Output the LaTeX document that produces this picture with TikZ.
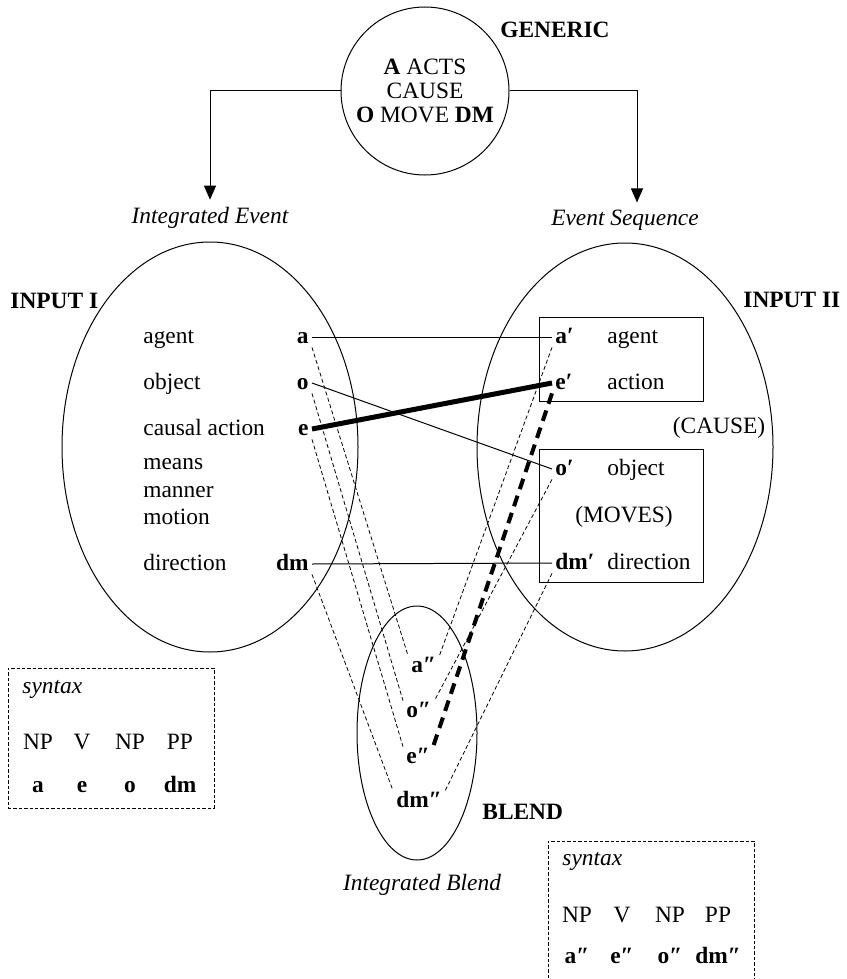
\documentclass[tikz,border=0pt]{standalone}
\usepackage{fontspec}
\setmainfont{Liberation Serif}
\usetikzlibrary{arrows.meta,shapes.geometric}

\begin{document}
\begin{tikzpicture}[x=0.5pt,y=-0.5pt,>={Triangle[length=7pt,width=6pt]},
  font=\fontsize{11.7}{13}\selectfont,
  space/.style={draw,ellipse,line width=0.5pt,inner sep=0pt},
  frame/.style={draw,line width=0.5pt,inner sep=0pt},
  synbox/.style={draw,dash pattern=on 1.7pt off 1pt,line width=0.5pt,minimum width=103pt,minimum height=70pt,inner sep=0pt},
  word/.style={anchor=base west,inner sep=0pt},
  cat/.style={anchor=base,inner sep=0pt},
  role/.style={font=\fontsize{11.7}{13}\selectfont\bfseries,text height=6pt,text depth=0pt,inner xsep=1.5pt,inner ysep=2pt},
  title/.style={font=\fontsize{11.7}{13}\selectfont\bfseries,anchor=base west,inner sep=0pt},
  frame label/.style={font=\fontsize{11.7}{13}\selectfont\itshape,anchor=base},
  link/.style={line width=0.5pt},
  heavy link/.style={line width=2.5pt},
  proj/.style={line width=0.4pt,dash pattern=on 2pt off 1.3pt},
  heavy proj/.style={line width=2pt,dash pattern=on 5.5pt off 3.5pt}]

  \useasboundingbox (0,0) rectangle (846,979);
  \clip (0,0) rectangle (846,979);

  % generic space
  \node[draw,circle,line width=0.5pt,minimum size=84pt,inner sep=0pt,align=center,font=\fontsize{11.7}{12}\selectfont] (generic) at (425,91) {\textbf{A} ACTS\\CAUSE\\\textbf{O} MOVE \textbf{DM}};
  \node[title] (generic label) at (500,38) {GENERIC};
  \node[frame label] (integrated event) at (210,223) {Integrated Event};
  \node[frame label] (event sequence) at (625,225) {Event Sequence};
  \draw[->,link] (generic.west) -| (integrated event.north);
  \draw[->,link] (generic.east) -| ([xshift=6pt]event sequence.north);

  % input spaces and blend
  \node[space,minimum width=148pt,minimum height=205pt] (input1) at (210,447) {};
  \node[space,minimum width=148pt,minimum height=204pt] (input2) at (625,447) {};
  \node[space,minimum width=60pt,minimum height=127pt] (blend) at (417,733) {};
  \node[title] (input1 label) at (10,308) {INPUT I};
  \node[title] (input2 label) at (743,307) {INPUT II};
  \node[title] (blend label) at (482,819) {BLEND};
  \node[frame label] (integrated blend) at (422,890) {Integrated Blend};

  % input I
  \node[word] (agent) at (143,343) {agent};
  \node[word] (object) at (143,389) {object};
  \node[word] (causal) at (143,435) {causal action};
  \node[word] (means) at (143,469) {means};
  \node[word] (manner) at (143,497) {manner};
  \node[word] (motion) at (143,524) {motion};
  \node[word] (direction) at (143,570) {direction};
  \node[role,anchor=base east] (a) at (312,343) {a};
  \node[role,anchor=base east] (o) at (312,389) {o};
  \node[role,anchor=base east] (e) at (312,435) {e};
  \node[role,anchor=base east] (dm) at (312,570) {dm};

  % input II
  \node[frame,minimum width=82pt,minimum height=42pt] (cause box) at (621,359) {};
  \node[frame,minimum width=82pt,minimum height=66.5pt] (move box) at (621,515.5) {};
  \node[role,anchor=base west] (a1) at (552,343) {a′};
  \node[role,anchor=base west] (e1) at (552,389) {e′};
  \node[role,anchor=base west] (o1) at (552,475) {o′};
  \node[role,anchor=base west] (dm1) at (552,569) {dm′};
  \node[word] (agent1) at (607,343) {agent};
  \node[word] (action1) at (607,389) {action};
  \node[word] (object1) at (607,475) {object};
  \node[word] (direction1) at (607,569) {direction};
  \node[cat] (cause) at (719,433) {(CAUSE)};
  \node[cat] (moves) at (624,522) {(MOVES)};

  % blend
  \node[role,anchor=base west] (a2) at (408,672) {a″};
  \node[role,anchor=base west] (o2) at (403,717) {o″};
  \node[role,anchor=base west] (e2) at (403,763) {e″};
  \node[role,anchor=base west] (dm2) at (393,807) {dm″};

  % cross-space mappings
  \draw[link] (a.east) -- (a1.west);
  \draw[link] (o.east) -- (o1.west);
  \draw[link] (dm.east) -- (dm1.west);
  \draw[heavy link] (e.east) -- (e1.west);

  % projections into the blend
  \draw[proj] (a.south east) -- (a2.north west);
  \draw[proj] (o.south east) -- (o2.north west);
  \draw[proj] (e.south east) -- (e2.north west);
  \draw[proj] (dm.south east) -- (dm2.north west);
  \draw[proj] (a1.south west) -- (a2.north east);
  \draw[proj] (o1.south west) -- (o2.north east);
  \draw[proj] (dm1.south west) -- (dm2.north east);
  \draw[heavy proj] (e1.south west) -- (e2.north east);

  % syntax of input I
  \node[synbox] (syntax1) at (111,738) {};
  \node[word,font=\fontsize{11.7}{13}\selectfont\itshape] (syntax1 label) at (22,693) {syntax};
  \node[cat] (np11) at (38,749) {NP};
  \node[cat] (v1) at (82,749) {V};
  \node[cat] (np12) at (130,749) {NP};
  \node[cat] (pp1) at (180,749) {PP};
  \node[cat,font=\fontsize{11.7}{13}\selectfont\bfseries] (sa1) at (38,792) {a};
  \node[cat,font=\fontsize{11.7}{13}\selectfont\bfseries] (se1) at (82,792) {e};
  \node[cat,font=\fontsize{11.7}{13}\selectfont\bfseries] (so1) at (130,792) {o};
  \node[cat,font=\fontsize{11.7}{13}\selectfont\bfseries] (sdm1) at (180,792) {dm};

  % syntax of blend
  \node[synbox] (syntax2) at (651,911) {};
  \node[word,font=\fontsize{11.7}{13}\selectfont\itshape] (syntax2 label) at (562,865) {syntax};
  \node[cat] (np21) at (577,922) {NP};
  \node[cat] (v2) at (622,922) {V};
  \node[cat] (np22) at (670,922) {NP};
  \node[cat] (pp2) at (718,922) {PP};
  \node[cat,font=\fontsize{11.7}{13}\selectfont\bfseries] (sa2) at (577,963) {a″};
  \node[cat,font=\fontsize{11.7}{13}\selectfont\bfseries] (se2) at (622,963) {e″};
  \node[cat,font=\fontsize{11.7}{13}\selectfont\bfseries] (so2) at (670,963) {o″};
  \node[cat,font=\fontsize{11.7}{13}\selectfont\bfseries] (sdm2) at (718,963) {dm″};

\end{tikzpicture}
\end{document}
